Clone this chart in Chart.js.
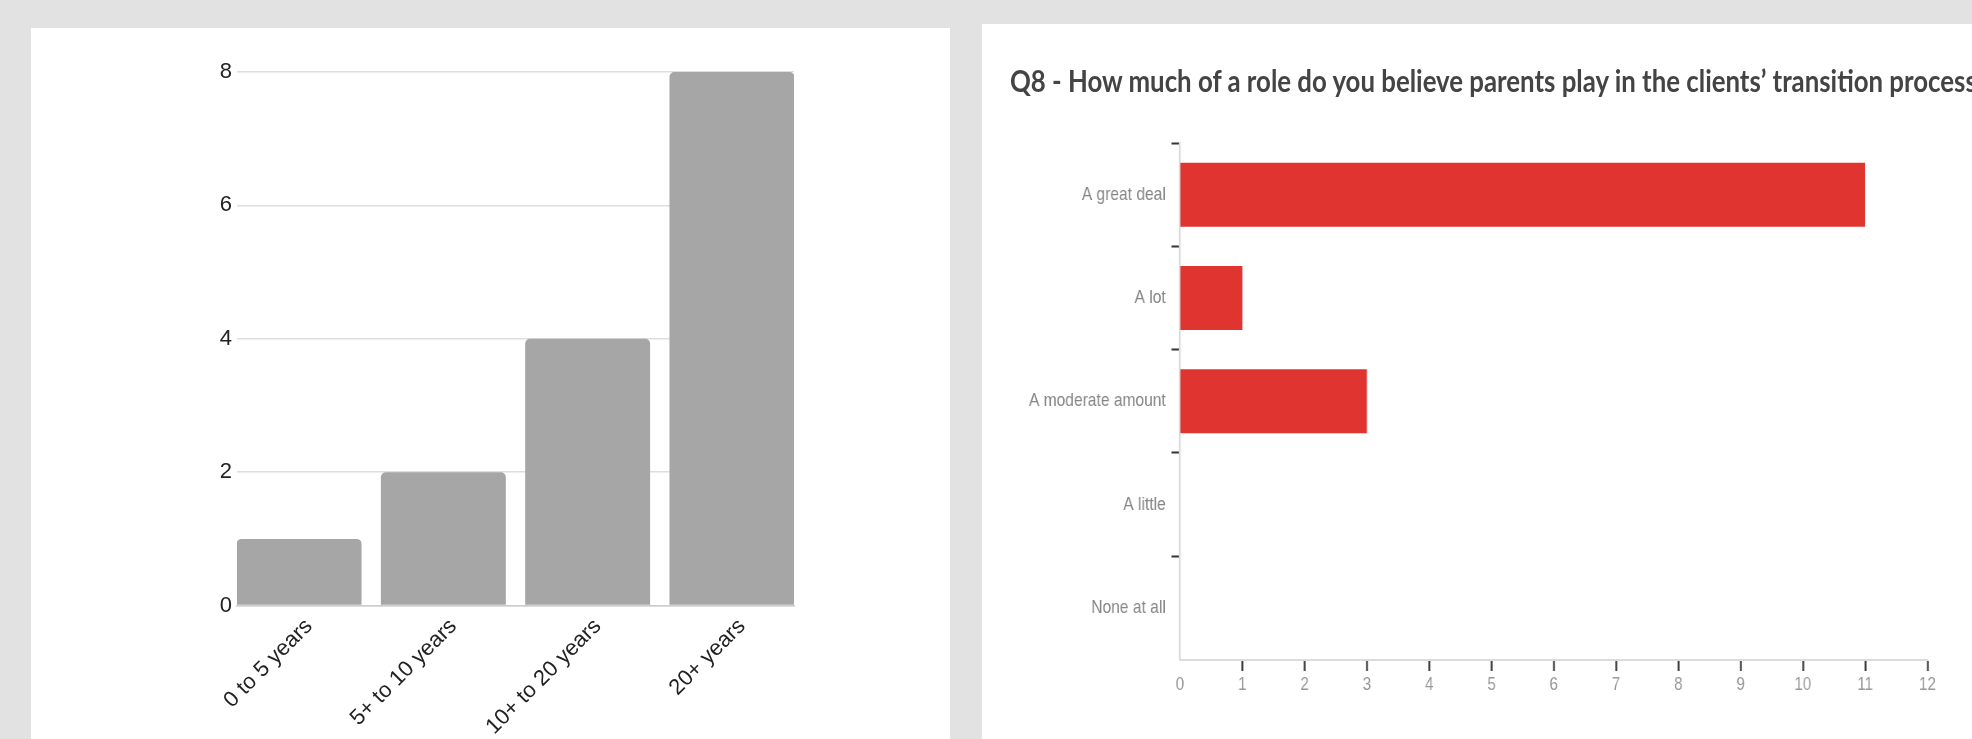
<!DOCTYPE html>
<html>
<head>
<meta charset="utf-8">
<script src="https://cdn.jsdelivr.net/npm/chart.js@4.4.1/dist/chart.umd.min.js"></script>
<style>
  html, body { margin: 0; padding: 0; }
  body {
    width: 1972px; height: 739px; overflow: hidden; position: relative;
    background: #e2e2e2; font-family: "Liberation Sans", Arial, sans-serif;
  }
  .card { position: absolute; background: #fff; overflow: hidden; }
  #yearsCard { left: 31px; top: 28px; width: 919px; height: 711px; }
  #roleCard { left: 982px; top: 24px; width: 990px; height: 715px; }
  #roleTitle {
    position: absolute; left: 28px; top: 41px; white-space: nowrap;
    font: bold 30px/1 Lato, sans-serif; color: #444444;
    transform: scaleX(0.86); transform-origin: 0 0; filter: blur(0.5px);
  }
  /* survey export is squeezed horizontally, so draw wide and scale down */
  #roleWrap {
    position: absolute; left: 0; top: 0; width: 1208px; height: 715px;
    transform: scaleX(0.82); transform-origin: 0 0; filter: blur(0.5px);
  }
</style>
</head>
<body>
<div class="card" id="yearsCard">
  <canvas id="yearsChart" width="919" height="711"></canvas>
</div>
<div class="card" id="roleCard">
  <div id="roleTitle">Q8 - How much of a role do you believe parents play in the clients’ transition process</div>
  <div id="roleWrap">
    <canvas id="roleChart" width="1208" height="715"></canvas>
  </div>
</div>

<script>
// years of experience
const yearCategories = ["0 to 5 years", "5+ to 10 years", "10+ to 20 years", "20+ years"];
const yearCounts = [1, 2, 4, 8];
const yearTicks = [0, 2, 4, 6, 8];

// Q8 answers
const roleCategories = ["A great deal", "A lot", "A moderate amount", "A little", "None at all"];
const roleCounts = [11, 1, 3, 0, 0];
const roleTicks = [0, 1, 2, 3, 4, 5, 6, 7, 8, 9, 10, 11, 12];

const plainFont = "'Liberation Sans', Arial, sans-serif";

// left chart: grey columns, linear x so the bars run flush to the grid ends
new Chart(document.getElementById("yearsChart"), {
  type: "bar",
  data: {
    datasets: [{
      data: yearCounts.map((v, i) => ({ x: i, y: v })),
      backgroundColor: "#a6a6a6",
      borderRadius: { topLeft: 5, topRight: 5, bottomLeft: 0, bottomRight: 0 },
      barPercentage: 0.866,
      categoryPercentage: 1,
    }],
  },
  options: {
    responsive: false,
    animation: false,
    layout: { padding: { left: 146, right: 156, top: 44, bottom: 0 } },
    plugins: { legend: { display: false }, tooltip: { enabled: false } },
    scales: {
      x: {
        type: "linear",
        offset: false,
        min: -0.43,
        max: 3.43,
        afterBuildTicks: (scale) => { scale.ticks = yearCategories.map((c, i) => ({ value: i })); },
        afterFit: (scale) => { scale.height = 133.4; },
        grid: { display: false },
        border: { color: "#cccccc", width: 1.5 },
        ticks: {
          minRotation: 45,
          maxRotation: 45,
          padding: 0,
          labelOffset: 10,
          color: "#222222",
          font: { family: plainFont, size: 22 },
          callback: (val) => yearCategories[val],
        },
      },
      y: {
        min: 0,
        max: 8,
        afterBuildTicks: (scale) => { scale.ticks = yearTicks.map((v) => ({ value: v })); },
        afterFit: (scale) => { scale.width = 60; },
        grid: { color: "#dedede", lineWidth: 1.5, drawTicks: false },
        border: { display: false },
        ticks: { padding: 5, color: "#222222", font: { family: plainFont, size: 22 } },
      },
    },
  },
});

// right chart: red horizontal bars
new Chart(document.getElementById("roleChart"), {
  type: "bar",
  data: {
    labels: roleCategories,
    datasets: [{
      data: roleCounts,
      backgroundColor: "#e03431",
      barPercentage: 0.62,
      categoryPercentage: 1,
    }],
  },
  options: {
    indexAxis: "y",
    responsive: false,
    animation: false,
    layout: { padding: { left: 20, right: 55, top: 119, bottom: 0 } },
    plugins: { legend: { display: false }, tooltip: { enabled: false } },
    scales: {
      y: {
        afterFit: (scale) => { scale.width = 221.5; },
        grid: {
          drawOnChartArea: false,
          tickLength: 10.4,
          tickWidth: 2,
          tickColor: (c) => (c.type === "tick" ? "#333333" : "rgba(0,0,0,0)"),
        },
        border: { color: "#d8d8de", width: 2.2 },
        ticks: { padding: 7, color: "#858585", font: { family: plainFont, size: 19 } },
      },
      x: {
        min: 0,
        max: 12,
        afterBuildTicks: (scale) => { scale.ticks = roleTicks.map((v) => ({ value: v })); },
        afterFit: (scale) => { scale.height = 79.5; },
        grid: {
          drawOnChartArea: false,
          tickLength: 11.5,
          tickWidth: 2.2,
          tickColor: (c) => (c.tick && c.tick.value === 0 ? "rgba(0,0,0,0)" : "#333333"),
        },
        border: { color: "#dcdcdc", width: 2 },
        ticks: { padding: 3, maxRotation: 0, color: "#999999", font: { family: plainFont, size: 18.5 } },
      },
    },
  },
});
</script>
</body>
</html>
